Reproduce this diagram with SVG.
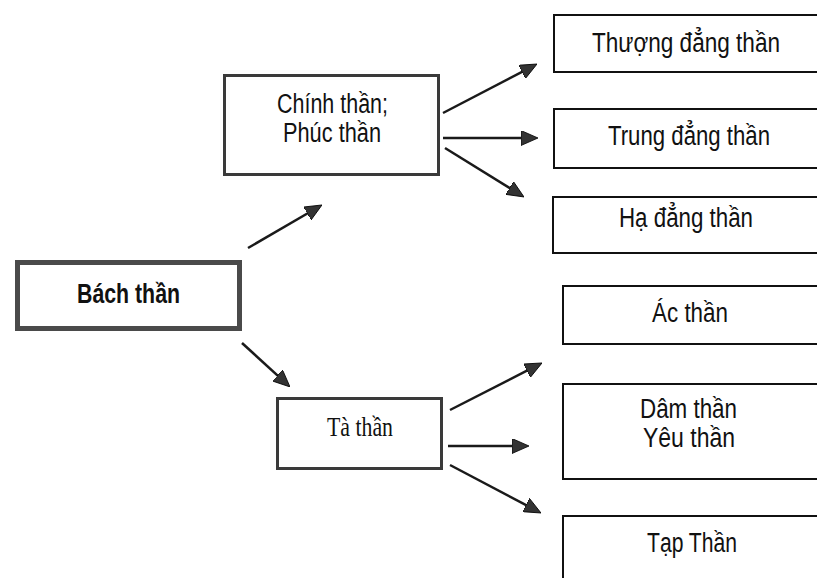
<svg xmlns="http://www.w3.org/2000/svg" width="817" height="578" viewBox="0 0 817 578">
  <style>
    .sans { font-family: "Liberation Sans", Arial, sans-serif; font-size: 27px; fill: #111; }
    .serif { font-family: "Liberation Serif", "Times New Roman", serif; font-size: 27px; fill: #111; }
    .bold { font-weight: bold; }
    .leaf { fill: #fff; stroke: #111; stroke-width: 2; }
    .hub { fill: #fff; stroke: #3a3a3a; stroke-width: 3; }
    .root { fill: #fff; stroke: #4a4a4a; stroke-width: 5; }
    .link { stroke: #1a1a1a; stroke-width: 2.5; fill: none; marker-end: url(#head); }
  </style>
  <defs>
    <marker id="head" markerUnits="userSpaceOnUse" markerWidth="17" markerHeight="15" viewBox="0 0 17 15" refX="11" refY="7.5" orient="auto">
      <path d="M0,0 L17,7.5 L0,15 z" fill="#333" stroke="#000" stroke-width="0.8"/>
    </marker>
  </defs>
  <rect width="817" height="578" fill="#fff"/>

  <g id="connectors">
    <line class="link" x1="248" y1="248" x2="316.8" y2="208"/>
    <line class="link" x1="242" y1="343" x2="285.6" y2="382.9"/>
    <line class="link" x1="443" y1="113" x2="531.7" y2="66.8"/>
    <line class="link" x1="443" y1="138" x2="532" y2="138"/>
    <line class="link" x1="445" y1="148" x2="518.9" y2="193.8"/>
    <line class="link" x1="450" y1="410" x2="536.7" y2="365.7"/>
    <line class="link" x1="448" y1="446" x2="523" y2="446"/>
    <line class="link" x1="450" y1="465" x2="535.7" y2="510.2"/>
  </g>

  <g id="bach-than">
    <rect class="root" x="17.5" y="262.5" width="222" height="66"/>
    <text class="sans bold" x="77" y="303" textLength="103" lengthAdjust="spacingAndGlyphs">Bách thần</text>
  </g>

  <g id="chinh-than">
    <rect class="hub" x="224.5" y="75.5" width="214" height="99"/>
    <text class="sans" x="277" y="113" textLength="111" lengthAdjust="spacingAndGlyphs">Chính thần;</text>
    <text class="sans" x="283" y="142" textLength="98" lengthAdjust="spacingAndGlyphs">Phúc thần</text>
  </g>

  <g id="ta-than">
    <rect class="hub" x="277.5" y="398.5" width="164" height="70"/>
    <text class="serif" x="327" y="436" textLength="66" lengthAdjust="spacingAndGlyphs">Tà thần</text>
  </g>

  <g id="thuong-dang-than">
    <rect class="leaf" x="554" y="15" width="280" height="57"/>
    <text class="sans" x="592" y="52" textLength="188" lengthAdjust="spacingAndGlyphs">Thượng đẳng thần</text>
  </g>

  <g id="trung-dang-than">
    <rect class="leaf" x="554" y="109" width="280" height="59"/>
    <text class="sans" x="608" y="145" textLength="162" lengthAdjust="spacingAndGlyphs">Trung đẳng thần</text>
  </g>

  <g id="ha-dang-than">
    <rect class="leaf" x="553" y="197" width="280" height="56"/>
    <text class="sans" x="619" y="227" textLength="134" lengthAdjust="spacingAndGlyphs">Hạ đẳng thần</text>
  </g>

  <g id="ac-than">
    <rect class="leaf" x="563" y="286" width="270" height="58"/>
    <text class="sans" x="652" y="322" textLength="76" lengthAdjust="spacingAndGlyphs">Ác thần</text>
  </g>

  <g id="dam-yeu-than">
    <rect class="leaf" x="563" y="384" width="270" height="95"/>
    <text class="sans" x="640" y="418" textLength="97" lengthAdjust="spacingAndGlyphs">Dâm thần</text>
    <text class="sans" x="643" y="447" textLength="92" lengthAdjust="spacingAndGlyphs">Yêu thần</text>
  </g>

  <g id="tap-than">
    <rect class="leaf" x="563" y="516" width="270" height="80"/>
    <text class="sans" x="647" y="552" textLength="90" lengthAdjust="spacingAndGlyphs">Tạp Thần</text>
  </g>
</svg>
